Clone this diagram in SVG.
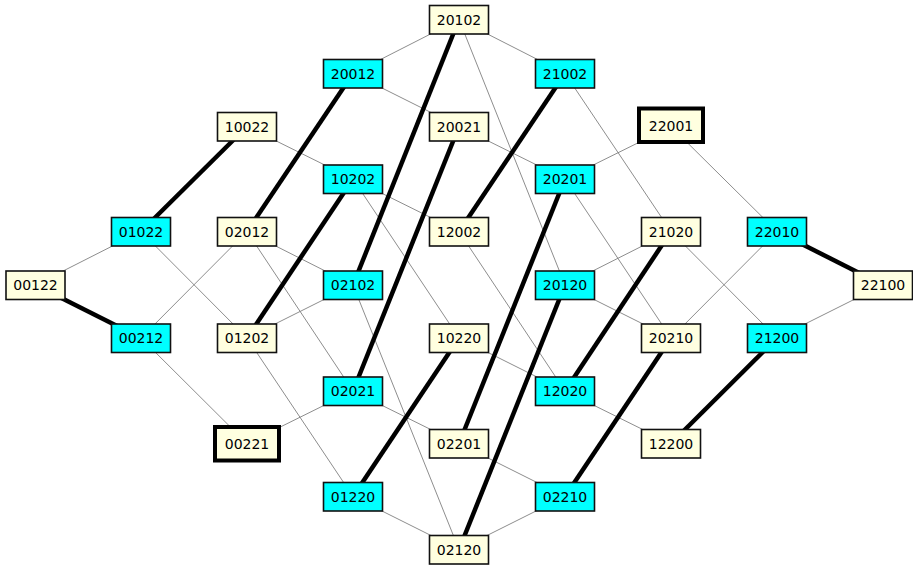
<svg xmlns="http://www.w3.org/2000/svg" width="913" height="566" viewBox="0 0 913 566">
<style>
.t{stroke:#808080;stroke-width:0.9;fill:none}
.k{stroke:#000;stroke-width:4.5;fill:none}
.c rect{fill:#00ffff;stroke:#111;stroke-width:1.6}
.y rect{fill:#ffffe0;stroke:#111;stroke-width:1.6}
.b rect{stroke:#000;stroke-width:4}
text{font-family:"DejaVu Sans",sans-serif;font-size:14px;text-anchor:middle;dominant-baseline:central;fill:#000}
</style>
<rect width="913" height="566" fill="#fff"/>
<g id="edges">
<line class="t" x1="35.5" y1="285" x2="141" y2="231.5"/>
<line class="t" x1="141" y1="231.5" x2="247" y2="338"/>
<line class="t" x1="141" y1="338" x2="247" y2="231.5"/>
<line class="t" x1="141" y1="338" x2="247" y2="443.5"/>
<line class="t" x1="247" y1="126.5" x2="353" y2="179"/>
<line class="t" x1="247" y1="231.5" x2="353" y2="285"/>
<line class="t" x1="247" y1="231.5" x2="353" y2="391"/>
<line class="t" x1="247" y1="338" x2="353" y2="285"/>
<line class="t" x1="247" y1="338" x2="353" y2="496.5"/>
<line class="t" x1="353" y1="391" x2="247" y2="443.5"/>
<line class="t" x1="353" y1="391" x2="459" y2="443.5"/>
<line class="t" x1="353" y1="73.5" x2="459" y2="19.5"/>
<line class="t" x1="353" y1="73.5" x2="459" y2="126.5"/>
<line class="t" x1="459" y1="19.5" x2="565" y2="73.5"/>
<line class="t" x1="459" y1="19.5" x2="565" y2="285"/>
<line class="t" x1="353" y1="179" x2="459" y2="231.5"/>
<line class="t" x1="353" y1="179" x2="459" y2="338"/>
<line class="t" x1="459" y1="126.5" x2="565" y2="179"/>
<line class="t" x1="565" y1="73.5" x2="671" y2="231.5"/>
<line class="t" x1="671" y1="126.5" x2="565" y2="179"/>
<line class="t" x1="671" y1="126.5" x2="777" y2="231.5"/>
<line class="t" x1="565" y1="179" x2="671" y2="338"/>
<line class="t" x1="459" y1="231.5" x2="565" y2="391"/>
<line class="t" x1="353" y1="285" x2="459" y2="549.5"/>
<line class="t" x1="671" y1="231.5" x2="565" y2="285"/>
<line class="t" x1="671" y1="231.5" x2="777" y2="338"/>
<line class="t" x1="777" y1="231.5" x2="671" y2="338"/>
<line class="t" x1="565" y1="285" x2="671" y2="338"/>
<line class="t" x1="459" y1="338" x2="565" y2="391"/>
<line class="t" x1="777" y1="338" x2="883" y2="285"/>
<line class="t" x1="565" y1="391" x2="671" y2="443.5"/>
<line class="t" x1="459" y1="443.5" x2="565" y2="496.5"/>
<line class="t" x1="353" y1="496.5" x2="459" y2="549.5"/>
<line class="t" x1="459" y1="549.5" x2="565" y2="496.5"/>
<line class="k" x1="35.5" y1="285" x2="141" y2="338"/>
<line class="k" x1="247" y1="126.5" x2="141" y2="231.5"/>
<line class="k" x1="353" y1="73.5" x2="247" y2="231.5"/>
<line class="k" x1="353" y1="179" x2="247" y2="338"/>
<line class="k" x1="459" y1="19.5" x2="353" y2="285"/>
<line class="k" x1="459" y1="126.5" x2="353" y2="391"/>
<line class="k" x1="565" y1="73.5" x2="459" y2="231.5"/>
<line class="k" x1="565" y1="179" x2="459" y2="443.5"/>
<line class="k" x1="459" y1="338" x2="353" y2="496.5"/>
<line class="k" x1="565" y1="285" x2="459" y2="549.5"/>
<line class="k" x1="671" y1="231.5" x2="565" y2="391"/>
<line class="k" x1="671" y1="338" x2="565" y2="496.5"/>
<line class="k" x1="777" y1="338" x2="671" y2="443.5"/>
<line class="k" x1="777" y1="231.5" x2="883" y2="285"/>
</g>
<g id="n20102" class="y"><rect x="429.5" y="5.5" width="59" height="28.5"/><text x="459" y="19.5">20102</text></g>
<g id="n20012" class="c"><rect x="323.5" y="59.5" width="59" height="28.5"/><text x="353" y="73.5">20012</text></g>
<g id="n21002" class="c"><rect x="535.5" y="59.5" width="59" height="28.5"/><text x="565" y="73.5">21002</text></g>
<g id="n10022" class="y"><rect x="217.5" y="112.5" width="59" height="28.5"/><text x="247" y="126.5">10022</text></g>
<g id="n20021" class="y"><rect x="429.5" y="112.5" width="59" height="28.5"/><text x="459" y="126.5">20021</text></g>
<g id="n22001" class="y b"><rect x="639" y="108.5" width="64" height="33.5"/><text x="671" y="125.5">22001</text></g>
<g id="n10202" class="c"><rect x="323.5" y="165" width="59" height="28.5"/><text x="353" y="179">10202</text></g>
<g id="n20201" class="c"><rect x="535.5" y="165" width="59" height="28.5"/><text x="565" y="179">20201</text></g>
<g id="n01022" class="c"><rect x="111.5" y="217.5" width="59" height="28.5"/><text x="141" y="231.5">01022</text></g>
<g id="n02012" class="y"><rect x="217.5" y="217.5" width="59" height="28.5"/><text x="247" y="231.5">02012</text></g>
<g id="n12002" class="y"><rect x="429.5" y="217.5" width="59" height="28.5"/><text x="459" y="231.5">12002</text></g>
<g id="n21020" class="y"><rect x="641.5" y="217.5" width="59" height="28.5"/><text x="671" y="231.5">21020</text></g>
<g id="n22010" class="c"><rect x="747.5" y="217.5" width="59" height="28.5"/><text x="777" y="231.5">22010</text></g>
<g id="n00122" class="y"><rect x="6" y="271" width="59" height="28.5"/><text x="35.5" y="285">00122</text></g>
<g id="n02102" class="c"><rect x="323.5" y="271" width="59" height="28.5"/><text x="353" y="285">02102</text></g>
<g id="n20120" class="c"><rect x="535.5" y="271" width="59" height="28.5"/><text x="565" y="285">20120</text></g>
<g id="n22100" class="y"><rect x="853.5" y="271" width="59" height="28.5"/><text x="883" y="285">22100</text></g>
<g id="n00212" class="c"><rect x="111.5" y="324" width="59" height="28.5"/><text x="141" y="338">00212</text></g>
<g id="n01202" class="y"><rect x="217.5" y="324" width="59" height="28.5"/><text x="247" y="338">01202</text></g>
<g id="n10220" class="y"><rect x="429.5" y="324" width="59" height="28.5"/><text x="459" y="338">10220</text></g>
<g id="n20210" class="y"><rect x="641.5" y="324" width="59" height="28.5"/><text x="671" y="338">20210</text></g>
<g id="n21200" class="c"><rect x="747.5" y="324" width="59" height="28.5"/><text x="777" y="338">21200</text></g>
<g id="n02021" class="c"><rect x="323.5" y="377" width="59" height="28.5"/><text x="353" y="391">02021</text></g>
<g id="n12020" class="c"><rect x="535.5" y="377" width="59" height="28.5"/><text x="565" y="391">12020</text></g>
<g id="n00221" class="y b"><rect x="215" y="427" width="64" height="33.5"/><text x="247" y="443.8">00221</text></g>
<g id="n02201" class="y"><rect x="429.5" y="429.5" width="59" height="28.5"/><text x="459" y="443.5">02201</text></g>
<g id="n12200" class="y"><rect x="641.5" y="429.5" width="59" height="28.5"/><text x="671" y="443.5">12200</text></g>
<g id="n01220" class="c"><rect x="323.5" y="482.5" width="59" height="28.5"/><text x="353" y="496.5">01220</text></g>
<g id="n02210" class="c"><rect x="535.5" y="482.5" width="59" height="28.5"/><text x="565" y="496.5">02210</text></g>
<g id="n02120" class="y"><rect x="429.5" y="535.5" width="59" height="28.5"/><text x="459" y="549.5">02120</text></g>
</svg>
